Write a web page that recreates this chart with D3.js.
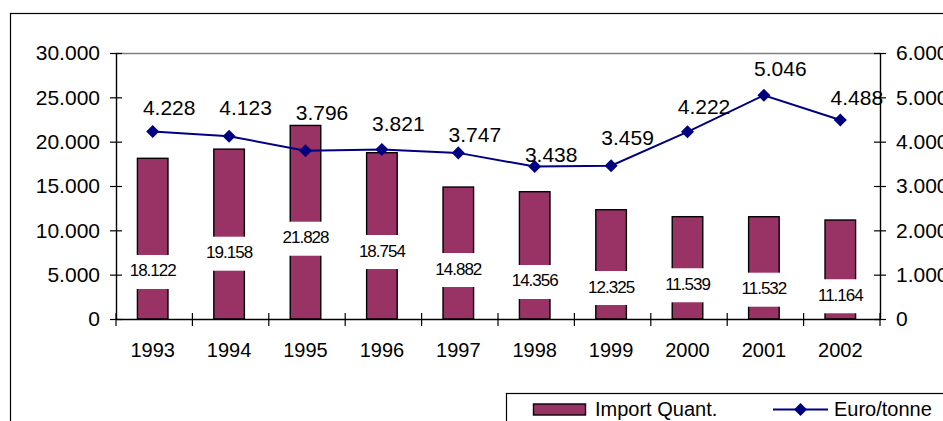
<!DOCTYPE html>
<html>
<head>
<meta charset="utf-8">
<script src="https://cdn.jsdelivr.net/npm/d3@7"></script>
<style>
	body { margin: 0; background: #fff; }
	text { font-family: "Liberation Sans", Arial, sans-serif; fill: #000; }
</style>
</head>
<body>
<svg id="chartSVG"></svg>
<script>
var years = ['1993', '1994', '1995', '1996', '1997', '1998', '1999', '2000', '2001', '2002'];
var importQuant = [18122, 19158, 21828, 18754, 14882, 14356, 12325, 11539, 11532, 11164];
var euroPerTonne = [4228, 4123, 3796, 3821, 3747, 3438, 3459, 4222, 5046, 4488];
var leftTicks = [0, 5000, 10000, 15000, 20000, 25000, 30000];
var rightTicks = [0, 1000, 2000, 3000, 4000, 5000, 6000];
var seriesNames = ['Import Quant.', 'Euro/tonne'];

// where the labels were dragged to in the original (label centre, left-axis units / px above marker)
var quantLabelAt = [5530, 7590, 9280, 7780, 5750, 4400, 3720, 4030, 3530, 2790];
var priceLabelLift = [24, 29, 38, 26, 18, 12, 28, 25, 27, 23];

var svgDimensions = { width: 943, height: 421 };
var plot = { left: 116, right: 880, top: 53, bottom: 319 };
var barColor = '#993366';
var lineColor = '#000080';

var nl = d3.formatLocale({ decimal: ',', thousands: '.', grouping: [3], currency: ['', ''] });
var fmt = nl.format(',');

var svg = d3.select('#chartSVG')
	.attr('width', svgDimensions.width)
	.attr('height', svgDimensions.height);

// chart border
svg.append('rect')
	.attr('x', 10.5)
	.attr('y', 13.5)
	.attr('width', 1000)
	.attr('height', 500)
	.attr('fill', 'none')
	.attr('stroke', '#000')
	.attr('stroke-width', 1.2);

var x = d3.scaleBand()
	.domain(years)
	.range([plot.left, plot.right])
	.paddingInner(0.6)
	.paddingOuter(0.3);

var yLeft = d3.scaleLinear()
	.domain([0, 30000])
	.range([plot.bottom, plot.top]);

var yRight = d3.scaleLinear()
	.domain([0, 6000])
	.range([plot.bottom, plot.top]);

// plot area top edge
svg.append('line')
	.attr('x1', plot.left)
	.attr('x2', plot.right)
	.attr('y1', plot.top + 0.5)
	.attr('y2', plot.top + 0.5)
	.attr('stroke', '#808080')
	.attr('stroke-width', 1.3);

// bars
svg.append('g')
	.selectAll('rect')
	.data(importQuant)
	.join('rect')
	.attr('x', function(d, i) { return x(years[i]) - 1.5; })
	.attr('y', function(d) { return yLeft(d); })
	.attr('width', x.bandwidth())
	.attr('height', function(d) { return yLeft(0) - yLeft(d); })
	.attr('fill', barColor)
	.attr('stroke', '#000')
	.attr('stroke-width', 1.4);

// bar labels on white boxes
var barLabels = svg.append('g')
	.selectAll('g')
	.data(importQuant)
	.join('g')
	.attr('transform', function(d, i) {
		return 'translate(' + (x(years[i]) + x.bandwidth() / 2 - 1.5) + ',' + yLeft(quantLabelAt[i]) + ')';
	});

barLabels.append('rect')
	.attr('x', -27)
	.attr('y', -15)
	.attr('width', 54)
	.attr('height', 34)
	.attr('fill', '#fff');

barLabels.append('text')
	.attr('text-anchor', 'middle')
	.attr('y', 6.5)
	.attr('font-size', '17px')
	.attr('letter-spacing', '-1px')
	.text(function(d) { return fmt(d); });

// left axis
var leftAxis = svg.append('g')
	.attr('transform', 'translate(' + plot.left + ',0)')
	.call(d3.axisLeft(yLeft).tickValues(leftTicks).tickFormat(fmt).tickSizeInner(6).tickSizeOuter(0).tickPadding(10));
leftAxis.selectAll('.tick line').attr('x1', 6);
leftAxis.selectAll('text').attr('font-size', '21px').attr('font-family', '"Liberation Sans", Arial, sans-serif');

// right axis
var rightAxis = svg.append('g')
	.attr('transform', 'translate(' + plot.right + ',0)')
	.call(d3.axisRight(yRight).tickValues(rightTicks).tickFormat(fmt).tickSizeInner(6).tickSizeOuter(0).tickPadding(10));
rightAxis.selectAll('.tick line').attr('x1', -6);
rightAxis.selectAll('text').attr('font-size', '21px').attr('font-family', '"Liberation Sans", Arial, sans-serif');

// bottom axis: labels at band centres, ticks at band edges
var bottomAxis = svg.append('g')
	.attr('transform', 'translate(0,' + plot.bottom + ')')
	.call(d3.axisBottom(x).tickSize(0).tickPadding(24));
bottomAxis.selectAll('text').attr('font-size', '20px').attr('font-family', '"Liberation Sans", Arial, sans-serif');
bottomAxis.selectAll('.tick').attr('transform', function(d) { return 'translate(' + (x(d) + x.bandwidth() / 2 - 1.5) + ',0)'; });

var edges = d3.range(years.length + 1).map(function(i) { return plot.left + i * x.step(); });
svg.append('g')
	.selectAll('line')
	.data(edges)
	.join('line')
	.attr('x1', function(d) { return d; })
	.attr('x2', function(d) { return d; })
	.attr('y1', plot.bottom - 6)
	.attr('y2', plot.bottom + 7)
	.attr('stroke', '#000')
	.attr('stroke-width', 1.2);

svg.selectAll('.domain').attr('stroke', '#000').attr('stroke-width', 1.4);
svg.selectAll('.tick line').attr('stroke', '#000').attr('stroke-width', 1.2);

// price line
var line = d3.line()
	.x(function(d, i) { return x(years[i]) + x.bandwidth() / 2 - 1.5; })
	.y(function(d) { return yRight(d); });

svg.append('path')
	.datum(euroPerTonne)
	.attr('d', line)
	.attr('fill', 'none')
	.attr('stroke', lineColor)
	.attr('stroke-width', 2);

var diamond = d3.symbol(d3.symbolSquare).size(85);

svg.append('g')
	.selectAll('path')
	.data(euroPerTonne)
	.join('path')
	.attr('d', diamond)
	.attr('transform', function(d, i) {
		return 'translate(' + (x(years[i]) + x.bandwidth() / 2 - 1.5) + ',' + yRight(d) + ') rotate(45)';
	})
	.attr('fill', lineColor);

svg.append('g')
	.selectAll('text')
	.data(euroPerTonne)
	.join('text')
	.attr('x', function(d, i) { return x(years[i]) + x.bandwidth() / 2 + 15; })
	.attr('y', function(d, i) { return yRight(d) - priceLabelLift[i] + 7.5; })
	.attr('text-anchor', 'middle')
	.attr('font-size', '21px')
	.text(function(d) { return fmt(d); });

// legend
var legend = svg.append('g');

legend.append('rect')
	.attr('x', 506.5)
	.attr('y', 393.5)
	.attr('width', 500)
	.attr('height', 100)
	.attr('fill', '#fff')
	.attr('stroke', '#000')
	.attr('stroke-width', 1.2);

legend.append('rect')
	.attr('x', 533.5)
	.attr('y', 404)
	.attr('width', 52)
	.attr('height', 11)
	.attr('fill', barColor)
	.attr('stroke', '#000')
	.attr('stroke-width', 1.4);

legend.append('text')
	.attr('x', 595)
	.attr('y', 415.5)
	.attr('font-size', '20px')
	.text(seriesNames[0]);

legend.append('line')
	.attr('x1', 773)
	.attr('x2', 828)
	.attr('y1', 409.5)
	.attr('y2', 409.5)
	.attr('stroke', lineColor)
	.attr('stroke-width', 2);

legend.append('path')
	.attr('d', diamond)
	.attr('transform', 'translate(800.5,409.5) rotate(45)')
	.attr('fill', lineColor);

legend.append('text')
	.attr('x', 834)
	.attr('y', 415.5)
	.attr('font-size', '20px')
	.text(seriesNames[1]);
</script>
</body>
</html>
